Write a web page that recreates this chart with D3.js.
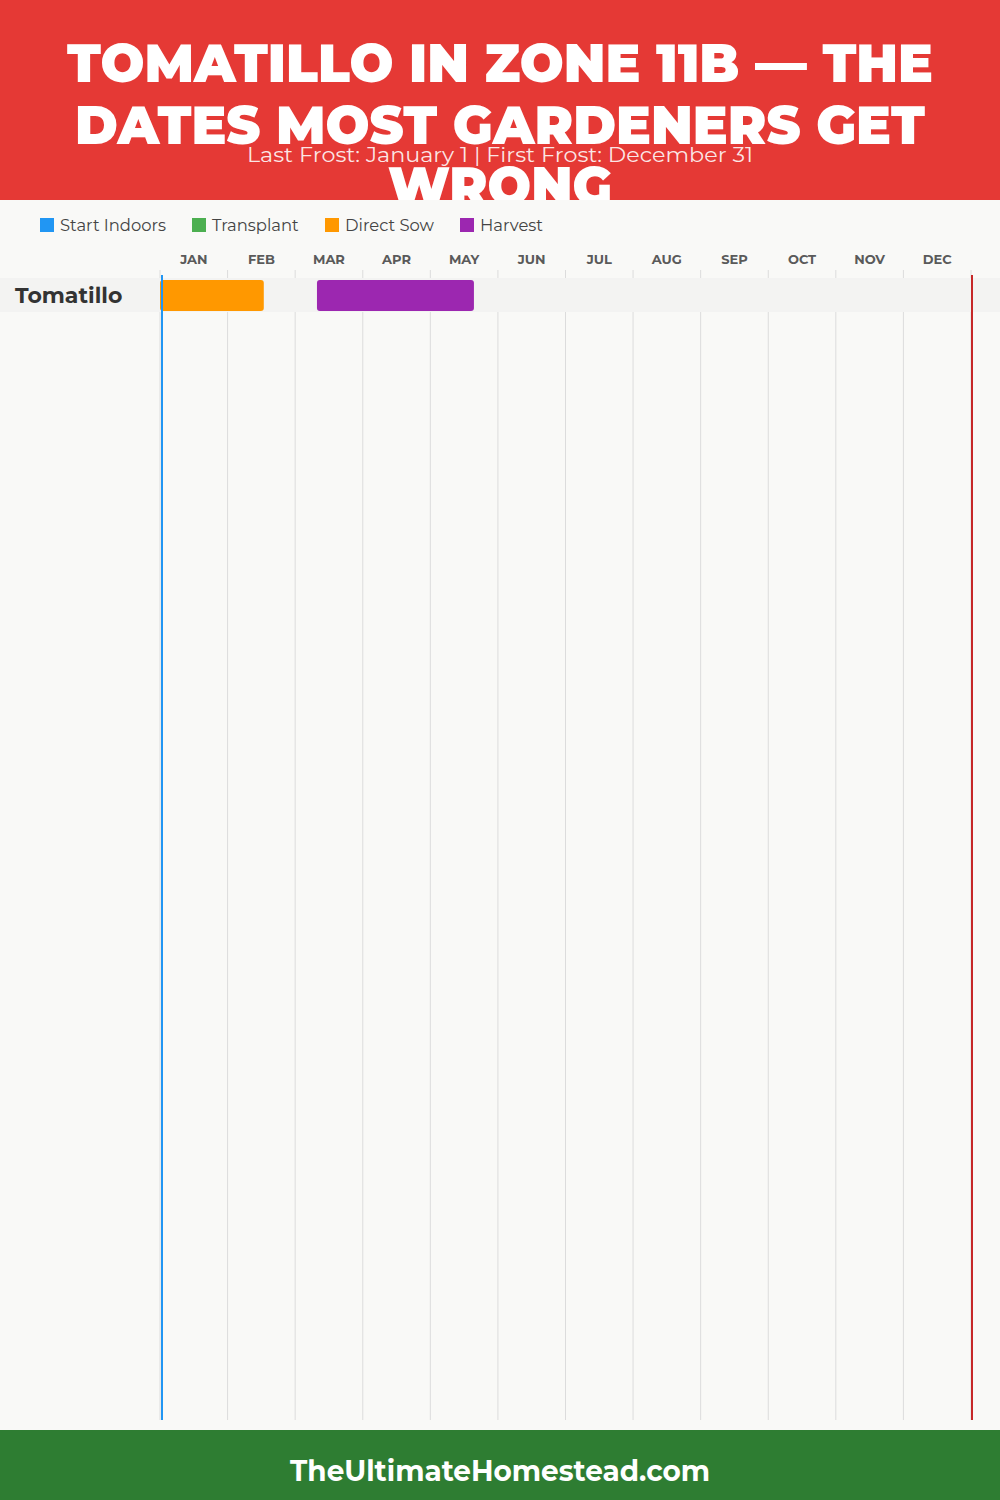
<!DOCTYPE html>
<html><head><meta charset="utf-8">
<script src="https://cdn.jsdelivr.net/npm/d3@7"></script>
<style>html,body{margin:0;padding:0;background:#f9f9f7;}svg{display:block;}</style>
</head><body>
<svg id="c" width="1000" height="1500"></svg>
<script>
const titleLines = ["TOMATILLO IN ZONE 11B — THE", "DATES MOST GARDENERS GET", "WRONG"];
const subtitle = "Last Frost: January 1 | First Frost: December 31";
const footerText = "TheUltimateHomestead.com";
const months = ["JAN","FEB","MAR","APR","MAY","JUN","JUL","AUG","SEP","OCT","NOV","DEC"];
const daysInMonth = [31,28,31,30,31,30,31,31,30,31,30,31];
const legendNames = ["Start Indoors","Transplant","Direct Sow","Harvest"];
const legendColors = ["#2196F3","#4CAF50","#FF9800","#9C27B0"];
const crops = ["Tomatillo"];
// [crop, activity, start (month, day), end (month, day)]
const tasks = [
  ["Tomatillo","Direct Sow",[1,1],[2,15]],
  ["Tomatillo","Harvest",[3,11],[5,20]]
];
const lastFrost = [1,1];
const firstFrost = [12,31];

const svg = d3.select("#c");
const W = 1000, H = 1500;
const font = "Montserrat, Inter, 'Open Sans', 'DejaVu Sans', sans-serif";

// header
svg.append("rect").attr("x",0).attr("y",0).attr("width",W).attr("height",200).attr("fill","#E53935");
const tl = [{y:82,len:866},{y:144,len:850},{y:205,len:224}];
titleLines.forEach((t,i)=>{
  svg.append("text").attr("x",W/2).attr("y",tl[i].y).attr("text-anchor","middle")
    .attr("font-family",font).attr("font-weight",900).attr("font-size",54)
    .attr("fill","#fff").attr("textLength",tl[i].len).attr("lengthAdjust","spacingAndGlyphs").text(t);
});
svg.append("text").attr("x",W/2).attr("y",162).attr("text-anchor","middle")
  .attr("font-family",font).attr("font-size",20).attr("fill","#fff").attr("fill-opacity",0.88)
  .attr("textLength",506).attr("lengthAdjust","spacingAndGlyphs").text(subtitle);

// chart bg
svg.append("rect").attr("x",0).attr("y",200).attr("width",W).attr("height",1230).attr("fill","#f9f9f7");

// legend
const legX = [40,192,325,460];
legendNames.forEach((n,i)=>{
  const g = svg.append("g").attr("transform",`translate(${legX[i]},218)`);
  g.append("rect").attr("width",14).attr("height",14).attr("fill",legendColors[i]);
  g.append("text").attr("x",20).attr("y",12.5).attr("font-family",font).attr("font-size",16.4)
    .attr("fill","#444").text(n);
});

const color = d3.scaleOrdinal(legendNames, legendColors);
const mx = d3.scaleLinear().domain([0,12]).range([160,971]);
const toX = ([m,d]) => mx(m-1 + (d-1)/daysInMonth[m-1]);
const toXEnd = ([m,d]) => mx(m-1 + d/daysInMonth[m-1]);

const y = d3.scaleBand().domain(crops).range([278,312]);
const plotTop = 270, plotBottom = 1420;

// grid lines
d3.range(13).forEach(i=>{
  svg.append("line").attr("x1",mx(i)).attr("x2",mx(i)).attr("y1",plotTop).attr("y2",plotBottom)
    .attr("stroke","#dcdcdc").attr("stroke-width",1);
});
// row backgrounds
crops.forEach(c=>{
  svg.append("rect").attr("x",0).attr("y",y(c)).attr("width",W).attr("height",y.bandwidth()).attr("fill","#f3f3f2");
});

// month labels
months.forEach((m,i)=>{
  svg.append("text").attr("x",mx(i+0.5)).attr("y",264).attr("text-anchor","middle")
    .attr("font-family",font).attr("font-weight",700).attr("font-size",13).attr("fill","#5a5a5a").text(m);
});

// crop labels
crops.forEach(c=>{
  svg.append("text").attr("x",15).attr("y",y(c)+y.bandwidth()/2+8).attr("font-family",font)
    .attr("font-weight",700).attr("font-size",22).attr("fill","#333").text(c);
});

// bars
tasks.forEach(([c,a,s,e])=>{
  svg.append("rect").attr("x",toX(s)).attr("y",y(c)+2).attr("width",toXEnd(e)-toX(s))
    .attr("height",y.bandwidth()-3).attr("rx",3).attr("fill",color(a));
});

// frost lines
svg.append("line").attr("x1",toX(lastFrost)+2).attr("x2",toX(lastFrost)+2).attr("y1",275).attr("y2",plotBottom)
  .attr("stroke","#2196F3").attr("stroke-width",2);
svg.append("line").attr("x1",toXEnd(firstFrost)+1).attr("x2",toXEnd(firstFrost)+1).attr("y1",275).attr("y2",plotBottom)
  .attr("stroke","#C62828").attr("stroke-width",2);

// footer
svg.append("rect").attr("x",0).attr("y",1430).attr("width",W).attr("height",70).attr("fill","#2E7D32");
svg.append("text").attr("x",W/2).attr("y",1481).attr("text-anchor","middle").attr("font-family",font)
  .attr("font-weight",700).attr("font-size",29).attr("fill","#fff").attr("textLength",420).attr("lengthAdjust","spacingAndGlyphs").text(footerText);
</script>
</body></html>
